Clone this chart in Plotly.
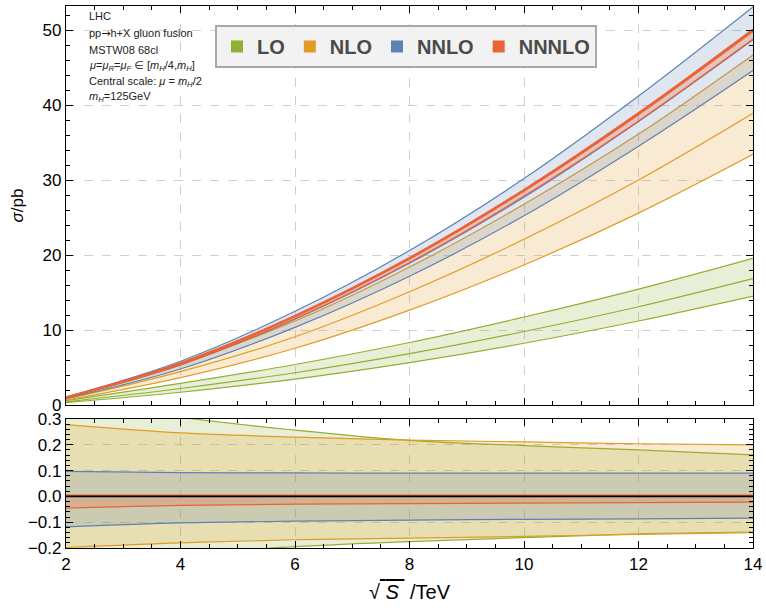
import plotly.graph_objects as go
from plotly.subplots import make_subplots

# sqrt(S) in TeV
sqrt_s = [2, 4, 6, 8, 10, 12, 14]

# central cross sections (pb)
lo_central = [0.42, 2.2, 4.3, 6.85, 9.8, 13.1, 16.85]
nlo_central = [0.8, 4.45, 9.1, 15.1, 22.1, 30.0, 38.9]
nnlo_central = [0.97, 5.35, 11.45, 18.9, 27.7, 37.8, 48.7]
nnnlo_central = [1.0, 5.55, 11.85, 19.55, 28.6, 38.8, 49.9]

# relative scale uncertainties (upper, lower)
lo_rel_up = [0.38, 0.307, 0.257, 0.217, 0.197, 0.180, 0.161]
lo_rel_dn = [-0.26, -0.225, -0.195, -0.175, -0.160, -0.145, -0.138]
nlo_rel_up = [0.278, 0.246, 0.230, 0.218, 0.211, 0.204, 0.200]
nlo_rel_dn = [-0.198, -0.180, -0.168, -0.162, -0.155, -0.147, -0.141]
nnlo_rel_up = [0.097, 0.092, 0.091, 0.090, 0.090, 0.090, 0.090]
nnlo_rel_dn = [-0.118, -0.103, -0.096, -0.092, -0.089, -0.087, -0.084]
nnnlo_rel_up = [0.005, 0.005, 0.005, 0.005, 0.005, 0.005, 0.005]
nnnlo_rel_dn = [-0.046, -0.035, -0.030, -0.028, -0.026, -0.024, -0.022]

series_names = ["LO", "NLO", "NNLO", "NNNLO"]
colors = ["#8FB032", "#E19C24", "#5E81B5", "#EB6235"]
fills = ["rgba(143,176,50,0.2)", "rgba(225,156,36,0.2)",
         "rgba(94,129,181,0.2)", "rgba(235,98,53,0.25)"]

centrals = [lo_central, nlo_central, nnlo_central, nnnlo_central]
rel_ups = [lo_rel_up, nlo_rel_up, nnlo_rel_up, nnnlo_rel_up]
rel_dns = [lo_rel_dn, nlo_rel_dn, nnlo_rel_dn, nnnlo_rel_dn]

FONT = "Liberation Sans, Arial, DejaVu Sans"

fig = make_subplots(rows=2, cols=1, shared_xaxes=False, vertical_spacing=0.0)

for name, col, fc, c, ru, rd in zip(series_names, colors, fills, centrals, rel_ups, rel_dns):
    up = [v * (1 + r) for v, r in zip(c, ru)]
    dn = [v * (1 + r) for v, r in zip(c, rd)]
    lw_c = 2.6 if name == "NNNLO" else 1.2
    # top panel
    fig.add_trace(go.Scatter(x=sqrt_s, y=dn, mode="lines", line=dict(color=col, width=1.2, shape="spline"),
                             showlegend=False, hoverinfo="skip"), row=1, col=1)
    fig.add_trace(go.Scatter(x=sqrt_s, y=up, mode="lines", line=dict(color=col, width=1.2, shape="spline"),
                             fill="tonexty", fillcolor=fc, showlegend=False, hoverinfo="skip"), row=1, col=1)
    fig.add_trace(go.Scatter(x=sqrt_s, y=c, mode="lines", line=dict(color=col, width=lw_c, shape="spline"),
                             showlegend=False, hoverinfo="skip"), row=1, col=1)
    # bottom panel
    fig.add_trace(go.Scatter(x=sqrt_s, y=rd, mode="lines", line=dict(color=col, width=1.2, shape="spline"),
                             showlegend=False, hoverinfo="skip"), row=2, col=1)
    fig.add_trace(go.Scatter(x=sqrt_s, y=ru, mode="lines", line=dict(color=col, width=1.2, shape="spline"),
                             fill="tonexty", fillcolor=fc, showlegend=False, hoverinfo="skip"), row=2, col=1)

# legend entries
for name, col in zip(series_names, colors):
    fig.add_trace(go.Scatter(x=[None], y=[None], mode="markers", name="<b>" + name + "</b>",
                             marker=dict(symbol="square", size=12, color=col)), row=1, col=1)

axis_common = dict(
    showline=True, linecolor="black", linewidth=1.2, mirror="allticks",
    ticks="inside", ticklen=7, tickwidth=1, tickcolor="black",
    showgrid=True, gridcolor="#d0d0d0", griddash="dash", gridwidth=1,
    zeroline=False, automargin=False,
    tickfont=dict(family=FONT, size=17, color="black"),
)

fig.update_xaxes(**axis_common, range=[2, 14], dtick=2, tick0=2,
                 minor=dict(dtick=0.5, ticks="inside", ticklen=4, tickcolor="black", showgrid=False))
fig.update_xaxes(showticklabels=False, row=1, col=1)
fig.update_xaxes(row=2, col=1, title=dict(
    text="√<span style='text-decoration:overline'> <i>S</i> </span> /TeV",
    font=dict(family=FONT, size=20, color="black"), standoff=12))

fig.update_yaxes(**axis_common)
fig.update_yaxes(row=1, col=1, range=[0, 53.2], dtick=10, tick0=0,
                 minor=dict(dtick=2, ticks="inside", ticklen=4, tickcolor="black", showgrid=False),
                 title=dict(text="<i>σ</i>/pb", font=dict(family=FONT, size=17, color="black"),
                            standoff=14))
fig.update_yaxes(row=2, col=1, range=[-0.2, 0.3], dtick=0.1, tick0=0, tickformat=".1f",
                 minor=dict(dtick=0.02, ticks="inside", ticklen=4, tickcolor="black", showgrid=False))

fig.update_layout(
    width=766, height=608,
    margin=dict(l=66, r=13, t=6, b=60),
    paper_bgcolor="white", plot_bgcolor="white",
    xaxis=dict(domain=[0, 1]), xaxis2=dict(domain=[0, 1]),
    yaxis=dict(domain=[0.2638, 1.0]), yaxis2=dict(domain=[0.0, 0.238]),
    showlegend=True,
    legend=dict(orientation="h", x=0.2169, y=0.965, xanchor="left", yanchor="top",
                bgcolor="#f2f2f2", bordercolor="#a8a8a8", borderwidth=2,
                font=dict(family=FONT, size=20, color="#4a4a4a"),
                itemsizing="trace", tracegroupgap=0, traceorder="normal"),
)

# zero reference line in ratio panel
fig.add_shape(type="line", xref="x2 domain", yref="y2", x0=0, x1=1, y0=0, y1=0,
              line=dict(color="black", width=1.6), layer="above")

info_lines = [
    "LHC",
    "pp<span style='font-family:DejaVu Sans'>→</span>h+X gluon fusion",
    "MSTW08 68cl",
    "<i>μ</i>=<i>μ</i><sub><i>R</i></sub>=<i>μ</i><sub><i>F</i></sub> ∈ [<i>m</i><sub><i>H</i></sub>/4,<i>m</i><sub><i>H</i></sub>]",
    "Central scale: <i>μ</i> = <i>m</i><sub><i>H</i></sub>/2",
    "<i>m</i><sub><i>H</i></sub>=125GeV",
]
info_py = [15.7, 33.3, 50.0, 65.7, 81.7, 97.3]
for txt, py in zip(info_lines, info_py):
    fig.add_annotation(text=txt, xref="paper", yref="paper", x=(87 - 66) / 687, y=(548 - py) / 542,
                       xanchor="left", yanchor="middle", showarrow=False,
                       font=dict(family=FONT, size=11, color="#222222"))

fig.write_html("out.html", config={"displayModeBar": False},
               post_script="document.body.style.margin='0';")
